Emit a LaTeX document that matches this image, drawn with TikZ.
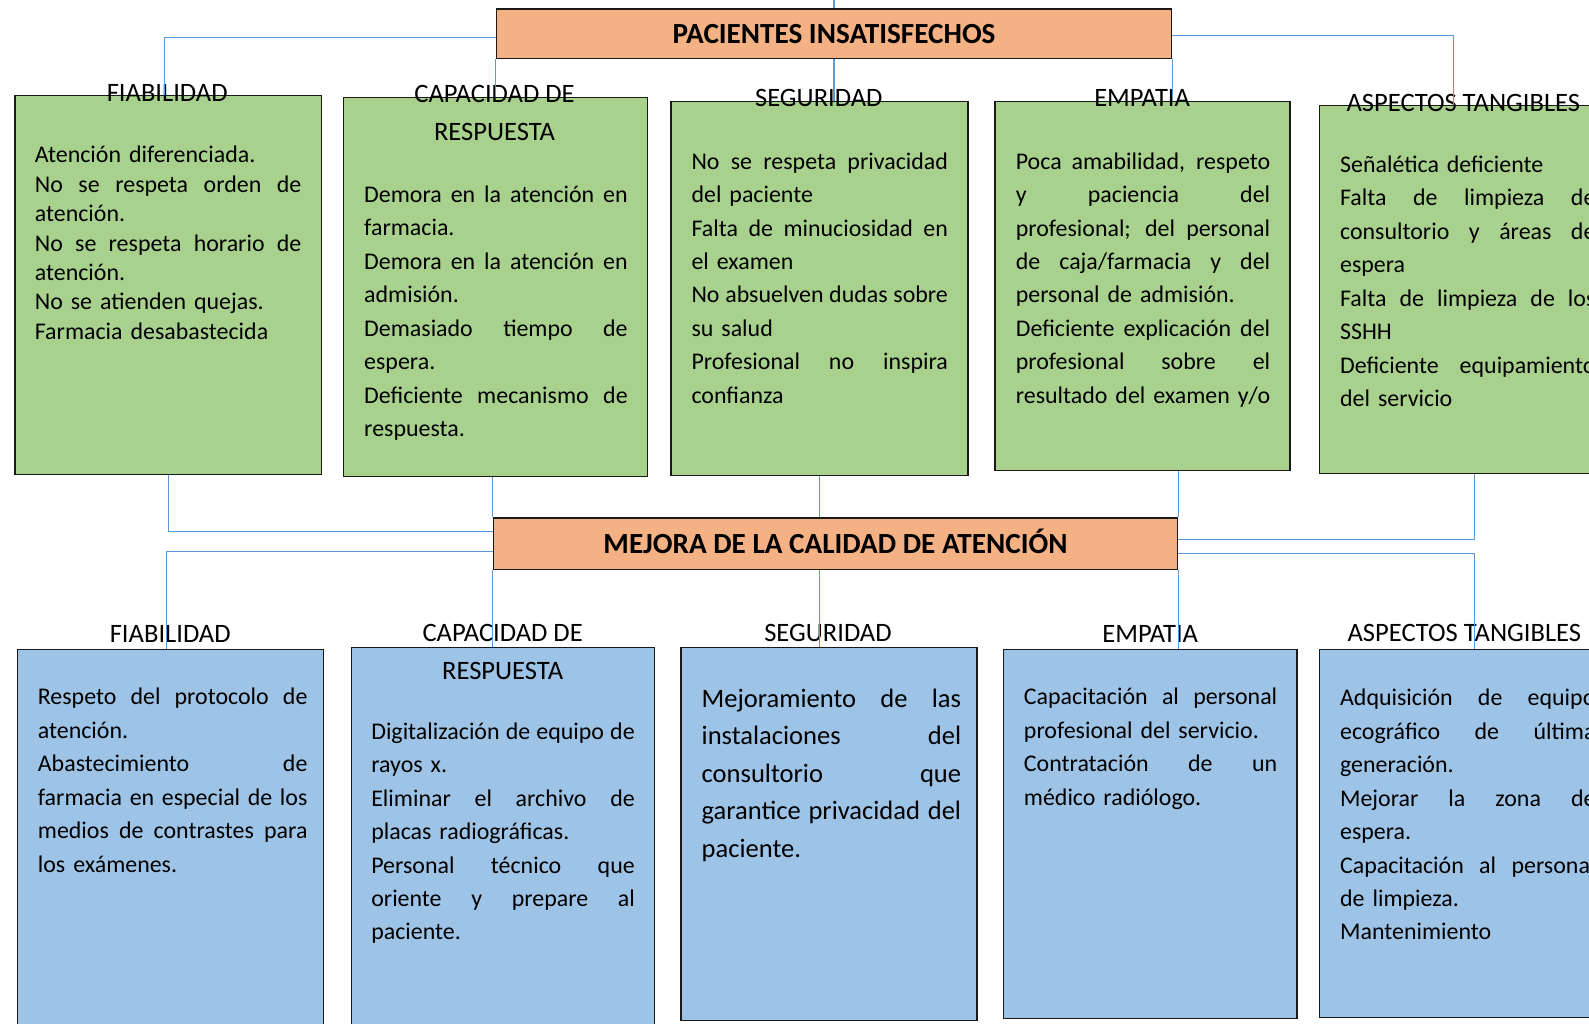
\documentclass[tikz,border=0pt]{standalone}
\usepackage{fontspec}
\setmainfont{Carlito}
\usetikzlibrary{fit}

\definecolor{naranja}{HTML}{F4B183}
\definecolor{verde}{HTML}{A9D18E}
\definecolor{celeste}{HTML}{9DC3E6}
\definecolor{azul}{HTML}{5B9BD5}

\newcommand{\jl}[1]{\leavevmode\hbox to \hsize{\spaceskip=\fontdimen2\font plus 1fil\relax #1}}

\tikzset{
  caja/.style={draw=black!90, line width=0.7pt, inner sep=0pt},
  titulo/.style={caja, fill=naranja, font=\bfseries\fontsize{14.4}{17}\selectfont, text height=9.3pt, text depth=0pt},
  problema/.style={caja, fill=verde},
  solucion/.style={caja, fill=celeste},
  cabecera/.style={inner sep=0pt, align=center, font=\fontsize{13.1}{18.5}\selectfont},
  texto/.style={inner sep=0pt, anchor=north west, align=left, font=\fontsize{11.8}{16.5}\selectfont},
  enlace/.style={draw=azul, line width=0.55pt},
}

\begin{document}
\begin{tikzpicture}[x=0.5pt,y=-0.5pt]
          \path[use as bounding box, clip] (0,0) rectangle (1568,1010);

          \node[titulo, minimum width=333pt, minimum height=24.5pt] (pac) at (823,33.5) {PACIENTES INSATISFECHOS};
          \node[titulo, minimum width=337.5pt, minimum height=25.4pt] (mej) at (824.5,536.4) {MEJORA DE LA CALIDAD DE ATENCIÓN};

          \node[problema, fit={(15,94) (317,468)}] (p1) {};
          \node[problema, fit={(339,96) (639,470)}] (p2) {};
          \node[problema, fit={(662,100) (955,469)}] (p3) {};
          \node[problema, fit={(982,100) (1273,464)}] (p4) {};
          \node[problema, fit={(1302,104) (1594,467)}] (p5) {};

          \node[solucion, fit={(17,641) (319,1030)}] (s1) {};
          \node[solucion, fit={(347,639) (646,1030)}] (s2) {};
          \node[solucion, fit={(672,639) (964,1007)}] (s3) {};
          \node[solucion, fit={(990,641) (1280,1005)}] (s4) {};
          \node[solucion, fit={(1302,641) (1594,1004)}] (s5) {};

          \node[texto, text width=131.5pt, font=\fontsize{11.8}{14.5}\selectfont] (tp1) at (34,140)
            {\strut Atención diferenciada.\\
             \jl{No se respeta orden de}\\
             atención.\\
             \jl{No se respeta horario de}\\
             atención.\\
             No se atienden quejas.\\
             Farmacia desabastecida};
          \node[texto, text width=130pt] (tp2) at (359,176.3)
            {\strut\jl{Demora en la atención en}\\
             farmacia.\\
             \jl{Demora en la atención en}\\
             admisión.\\
             \jl{Demasiado tiempo de}\\
             espera.\\
             \jl{Deficiente mecanismo de}\\
             respuesta.};
          \node[texto, text width=126.5pt] (tp3) at (682,143.4)
            {\strut\jl{No se respeta privacidad}\\
             del paciente\\
             \jl{Falta de minuciosidad en}\\
             el examen\\
             \jl{No absuelven dudas sobre}\\
             su salud\\
             \jl{Profesional no inspira}\\
             confianza};
          \node[texto, text width=125.5pt] (tp4) at (1002,143.4)
            {\strut\jl{Poca amabilidad, respeto}\\
             \jl{y paciencia del}\\
             \jl{profesional; del personal}\\
             \jl{de caja/farmacia y del}\\
             personal de admisión.\\
             \jl{Deficiente explicación del}\\
             \jl{profesional sobre el}\\
             \jl{resultado del examen y/o}};
          \node[texto, text width=126pt] (tp5) at (1322,146.7)
            {\strut Señalética deficiente\\
             \jl{Falta de limpieza de}\\
             \jl{consultorio y áreas de}\\
             espera\\
             \jl{Falta de limpieza de los}\\
             SSHH\\
             \jl{Deficiente equipamiento}\\
             del servicio};

          \node[texto, text width=133pt] (ts1) at (37,672)
            {\strut\jl{Respeto del protocolo de}\\
             atención.\\
             \jl{Abastecimiento de}\\
             \jl{farmacia en especial de los}\\
             \jl{medios de contrastes para}\\
             los exámenes.};
          \node[texto, text width=130pt] (ts2) at (366,706)
            {\strut\jl{Digitalización de equipo de}\\
             rayos x.\\
             \jl{Eliminar el archivo de}\\
             placas radiográficas.\\
             \jl{Personal técnico que}\\
             \jl{oriente y prepare al}\\
             paciente.};
          \node[texto, text width=128pt, font=\fontsize{13.1}{18.5}\selectfont] (ts3) at (692,671.4)
            {\strut\jl{Mejoramiento de las}\\
             \jl{instalaciones del}\\
             \jl{consultorio que}\\
             \jl{garantice privacidad del}\\
             paciente.};
          \node[texto, text width=125pt] (ts4) at (1010,672)
            {\strut\jl{Capacitación al personal}\\
             profesional del servicio.\\
             \jl{Contratación de un}\\
             médico radiólogo.};
          \node[texto, text width=126pt] (ts5) at (1322,673)
            {\strut\jl{Adquisición de equipo}\\
             \jl{ecográfico de última}\\
             generación.\\
             \jl{Mejorar la zona de}\\
             espera.\\
             \jl{Capacitación al personal}\\
             de limpieza.\\
             Mantenimiento};

          \node[cabecera] (hp1) at (165,92) {FIABILIDAD};
          \node[cabecera] (hp2) at (488,111.5) {CAPACIDAD DE\\RESPUESTA};
          \node[cabecera] (hp3) at (808,97) {SEGURIDAD};
          \node[cabecera] (hp4) at (1127,97) {EMPATIA};
          \node[cabecera] (hp5) at (1444,102) {ASPECTOS TANGIBLES};

          \node[cabecera] (hs1) at (168,626) {FIABILIDAD};
          \node[cabecera] (hs2) at (496,643.5) {CAPACIDAD DE\\RESPUESTA};
          \node[cabecera] (hs3) at (817,625) {SEGURIDAD};
          \node[cabecera] (hs4) at (1135,626) {EMPATIA};
          \node[cabecera] (hs5) at (1445,625) {ASPECTOS TANGIBLES};

          \coordinate (origen) at (823,-10);
          \draw[enlace] (origen) -- (pac.north);
          \draw[enlace] ([yshift=-1.75pt]pac.west) -| ([xshift=-2pt]p1.north);
          \draw[enlace] (pac.south west) -- (pac.south west |- p2.north);
          \draw[enlace] (pac.south) -- (pac.south |- p3.north);
          \draw[enlace] (pac.south east) -- (pac.south east |- p4.north);
          \draw[enlace] ([yshift=-0.75pt]pac.east) -| ([xshift=-7pt]p5.north);

          \draw[enlace] (p1.south) |- ([yshift=6pt]mej.west);
          \draw[enlace] (mej.north west |- p2.south) -- (mej.north west);
          \draw[enlace] (p3.south) -- (p3.south |- mej.north);
          \draw[enlace] (mej.north east |- p4.south) -- (mej.north east);
          \draw[enlace] ([xshift=3.5pt]p5.south) |- ([yshift=2pt]mej.east);

          \coordinate (m3) at ([xshift=-8pt]mej.south);
          \draw[enlace] ([yshift=-4pt]mej.west) -| ([xshift=-2pt]s1.north);
          \draw[enlace] (mej.south west) -- (mej.south west |- s2.north);
          \draw[enlace] (m3) -- (m3 |- s3.north);
          \draw[enlace] (mej.south east) -- (mej.south east |- s4.north);
          \draw[enlace] ([yshift=-5pt]mej.east) -| ([xshift=3.5pt]s5.north);

\end{tikzpicture}
\end{document}
